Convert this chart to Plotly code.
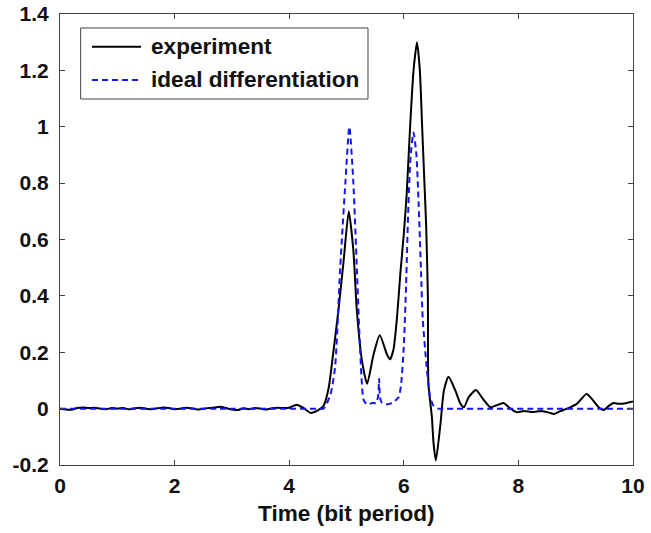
import plotly.graph_objects as go

# ---- data ----
exp_t = [0.0, 0.1, 0.2, 0.3, 0.4, 0.5, 0.6, 0.7, 0.8, 0.9, 1.0, 1.1, 1.2, 1.3, 1.4, 1.5,
         1.6, 1.7, 1.8, 1.9, 2.0, 2.1, 2.2, 2.3, 2.4, 2.5, 2.6, 2.7, 2.8, 2.9, 3.0, 3.1,
         3.2, 3.3, 3.4, 3.5, 3.6, 3.7, 3.8, 3.9, 4.0, 4.13, 4.25, 4.37, 4.5, 4.6, 4.69,
         4.77, 4.86, 4.95, 5.04, 5.12, 5.18, 5.27, 5.36, 5.47, 5.58, 5.71, 5.76, 5.82,
         5.88, 5.94, 6.0, 6.05, 6.11, 6.17, 6.23, 6.28, 6.32, 6.36, 6.39, 6.42, 6.43,
         6.49, 6.52, 6.56, 6.64, 6.7, 6.78, 6.9, 6.99, 7.05, 7.13, 7.26, 7.38, 7.51,
         7.62, 7.74, 7.85, 7.98, 8.1, 8.25, 8.4, 8.55, 8.62, 8.72, 8.85, 9.02, 9.19,
         9.3, 9.4, 9.49, 9.58, 9.66, 9.75, 9.85, 10.0]
exp_v = [0.0, -0.003, -0.004, 0.002, 0.004, 0.002, 0.003, 0.0, -0.002, 0.002, 0.0, 0.002,
         -0.002, 0.001, 0.003, 0.0, -0.002, 0.001, 0.004, 0.002, -0.002, 0.0, 0.003, 0.001,
         -0.003, 0.0, 0.002, 0.004, 0.007, 0.002, -0.003, -0.005, 0.001, -0.002, 0.002,
         0.0, -0.003, 0.001, 0.003, 0.002, 0.003, 0.014, 0.002, -0.015, -0.006, 0.01,
         0.075, 0.2, 0.35, 0.525, 0.70, 0.56, 0.35, 0.17, 0.088, 0.19, 0.26, 0.19, 0.175,
         0.21, 0.32, 0.48, 0.62, 0.76, 1.0, 1.2, 1.30, 1.2, 1.0, 0.8, 0.65, 0.40, 0.087,
         -0.03, -0.125, -0.184, -0.054, 0.064, 0.113, 0.064, 0.017, 0.005, 0.04, 0.066,
         0.035, 0.005, 0.012, 0.02, 0.002, -0.013, -0.008, -0.012, -0.008, -0.015, -0.019,
         -0.01, 0.0, 0.017, 0.052, 0.03, 0.005, -0.005, 0.01, 0.02, 0.017, 0.018, 0.025]

ideal_t = [0.0, 1.0, 2.0, 3.0, 4.0, 4.3, 4.5, 4.6, 4.72, 4.8, 4.89, 4.98, 5.05, 5.12,
           5.18, 5.24, 5.30, 5.36, 5.45, 5.52, 5.555, 5.57, 5.585, 5.62, 5.70, 5.80, 5.86,
           5.91, 5.95, 6.0, 6.04, 6.08, 6.12, 6.17, 6.22, 6.26, 6.30, 6.33, 6.40, 6.46,
           6.52, 6.6, 6.7, 6.9, 7.5, 8.5, 9.5, 10.0]
ideal_v = [0.0, 0.0, 0.0, 0.0, 0.0, 0.0, 0.0, 0.0, 0.05, 0.146, 0.5, 0.8, 1.0, 0.8,
           0.5, 0.2, 0.03, 0.015, 0.02, 0.02, 0.05, 0.106, 0.04, 0.02, 0.015, 0.02, 0.03,
           0.04, 0.08, 0.22, 0.44, 0.72, 0.90, 0.98, 0.90, 0.72, 0.49, 0.32, 0.146, 0.04,
           0.01, 0.0, 0.0, 0.0, 0.0, 0.0, 0.0, 0.0]

x_ticks = [0, 2, 4, 6, 8, 10]
x_tick_labels = ["0", "2", "4", "6", "8", "10"]
y_ticks = [-0.2, 0, 0.2, 0.4, 0.6, 0.8, 1.0, 1.2, 1.4]
y_tick_labels = ["-0.2", "0", "0.2", "0.4", "0.6", "0.8", "1", "1.2", "1.4"]

legend_labels = ["experiment", "ideal differentiation"]
x_title = "Time (bit period)"
FONT = "Liberation Sans, Arial, sans-serif"
TXT = dict(family=FONT, size=22.6, color="#111", weight="bold")
TICKFONT = dict(family=FONT, size=21, color="#111", weight="bold")
BLUE = "#1515EE"
DASH = "6px,4px"

fig = go.Figure()
fig.add_trace(go.Scatter(x=exp_t, y=exp_v, mode="lines", name=legend_labels[0],
                         line=dict(color="black", width=2, shape="spline", smoothing=0.6),
                         showlegend=False))
fig.add_trace(go.Scatter(x=ideal_t, y=ideal_v, mode="lines", name=legend_labels[1],
                         line=dict(color=BLUE, width=2, dash=DASH,
                                   shape="spline", smoothing=0.6),
                         showlegend=False))

axis_common = dict(showline=True, linecolor="#444", linewidth=1, mirror="allticks",
                   ticks="inside", ticklen=5, tickcolor="#444", showgrid=False,
                   zeroline=False, automargin=False, tickfont=TICKFONT)

fig.update_xaxes(range=[0, 10], tickvals=x_ticks, ticktext=x_tick_labels,
                 ticklabelstandoff=2, **axis_common)
fig.update_yaxes(range=[-0.2, 1.4], tickvals=y_ticks, ticktext=y_tick_labels,
                 ticklabelstandoff=6, **axis_common)

# manual MATLAB-style legend
shapes = [
    dict(type="rect", xref="paper", yref="paper", x0=0.036, x1=0.5375, y0=0.8115, y1=0.969,
         line=dict(color="#444", width=1), fillcolor="white", layer="above"),
    dict(type="line", xref="paper", yref="paper", x0=0.0558, x1=0.1414, y0=0.9275, y1=0.9275,
         line=dict(color="black", width=2), layer="above"),
    dict(type="line", xref="paper", yref="paper", x0=0.0558, x1=0.1414, y0=0.8537, y1=0.8537,
         line=dict(color=BLUE, width=2, dash=DASH), layer="above"),
]
annotations = [
    dict(xref="paper", yref="paper", x=0.155, y=0.9275, text=legend_labels[0], showarrow=False,
         xanchor="left", yanchor="middle", font=TXT),
    dict(xref="paper", yref="paper", x=0.155, y=0.8537, text=legend_labels[1], showarrow=False,
         xanchor="left", yanchor="middle", font=TXT),
    dict(xref="paper", yref="paper", x=0.5, y=0, yshift=-48, text=x_title, showarrow=False,
         xanchor="center", yanchor="middle", font=TXT),
]

fig.update_layout(width=651, height=533, margin=dict(l=60, r=18, t=14, b=68),
                  paper_bgcolor="white", plot_bgcolor="white",
                  shapes=shapes, annotations=annotations, showlegend=False)

fig.write_html("out.html")
